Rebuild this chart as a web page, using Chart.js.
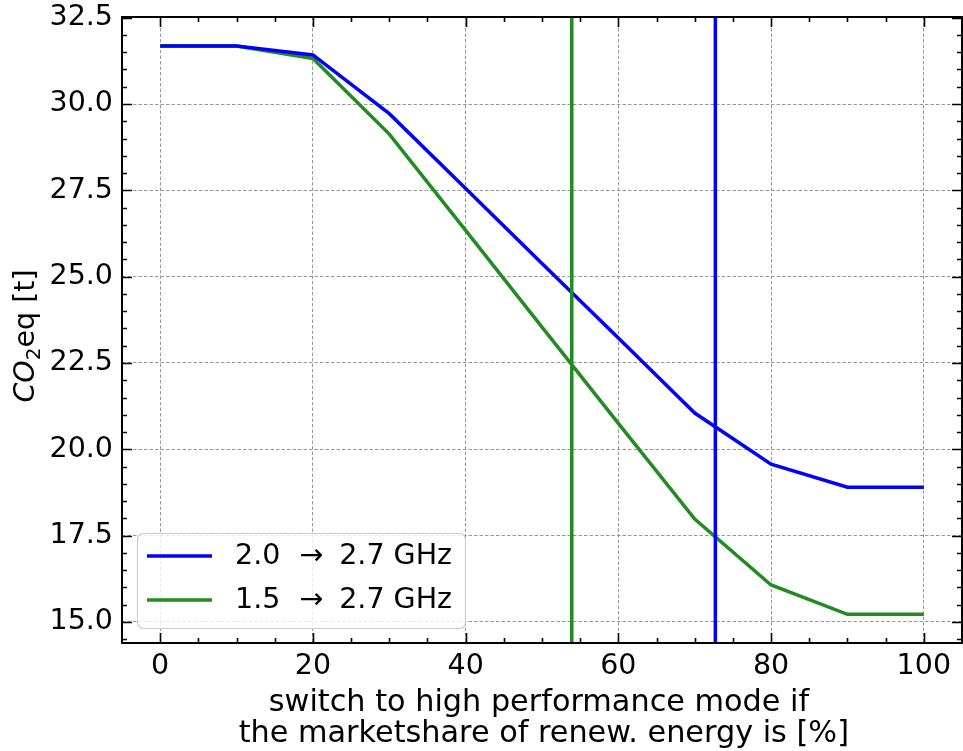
<!DOCTYPE html>
<html>
<head>
<meta charset="utf-8">
<script src="https://cdn.jsdelivr.net/npm/chart.js@4.4.0/dist/chart.umd.min.js"></script>
<style>
  html, body { margin: 0; padding: 0; background: #ffffff; }
  #wrap { width: 963px; height: 751px; position: relative; }
</style>
</head>
<body>
<div id="wrap"><canvas id="c" width="963" height="751"></canvas></div>
<script>
// ---- data ----
const shares = [0, 10, 20, 30, 40, 50, 60, 70, 80, 90, 100];
const co2_20_27 = [31.68, 31.68, 31.42, 29.72, 27.55, 25.38, 23.22, 21.05, 19.57, 18.9, 18.9];
const co2_15_27 = [31.68, 31.68, 31.32, 29.13, 26.34, 23.54, 20.75, 17.98, 16.07, 15.22, 15.22];
const seriesLabels = ['2.0 \u2192 2.7 GHz', '1.5 \u2192 2.7 GHz'];
const seriesColors = ['#0000ff', '#228b22'];
const switchPoints = [72.7, 53.9]; // vertical markers (blue, green)
const xTicks = [0, 20, 40, 60, 80, 100];
const yTicks = [15.0, 17.5, 20.0, 22.5, 25.0, 27.5, 30.0, 32.5];
const xLabelLines = ['switch to high performance mode if', ' the marketshare of renew. energy is [%]'];

const X_MIN = -5, X_MAX = 105, Y_MIN = 14.39, Y_MAX = 32.52;
const FONT = 'DejaVu Sans';
const FS = 28.5;      // tick labels
const FS_LAB = 30.3;  // x axis title
const FS_LEG = 28.5;  // legend
const LW = 3.5;

function pts(xs, ys) { return xs.map((x, i) => ({ x: x, y: ys[i] })); }
function vline(x) { return [{ x: x, y: Y_MIN }, { x: x, y: Y_MAX }]; }

const datasets = [
  { label: seriesLabels[0], data: pts(shares, co2_20_27), borderColor: seriesColors[0], borderWidth: LW, pointRadius: 0, tension: 0, order: 2 },
  { label: seriesLabels[1], data: pts(shares, co2_15_27), borderColor: seriesColors[1], borderWidth: LW, pointRadius: 0, tension: 0, order: 2 },
  { label: 'v0', data: vline(switchPoints[0]), borderColor: seriesColors[0], borderWidth: LW, pointRadius: 0, order: 1 },
  { label: 'v1', data: vline(switchPoints[1]), borderColor: seriesColors[1], borderWidth: LW, pointRadius: 0, order: 1 }
];

const decorPlugin = {
  id: 'decor',
  afterDraw(chart) {
    const ctx = chart.ctx;
    const a = chart.chartArea;
    const xs = chart.scales.x, ys = chart.scales.y;
    ctx.save();
    // frame
    ctx.strokeStyle = '#000';
    ctx.lineWidth = 2;
    ctx.strokeRect(a.left, a.top, a.right - a.left, a.bottom - a.top);
    // inward ticks
    ctx.lineWidth = 1.6;
    ctx.beginPath();
    for (let v = 0; v <= 100; v += 5) {
      const px = Math.round(xs.getPixelForValue(v)) + 0.5;
      const len = (v % 20 === 0) ? 10 : 5;
      ctx.moveTo(px, a.bottom); ctx.lineTo(px, a.bottom - len);
      ctx.moveTo(px, a.top); ctx.lineTo(px, a.top + len);
    }
    for (let k = 0; ; k++) {
      const v = 14.5 + k * 0.5;
      if (v > Y_MAX) break;
      const py = Math.round(ys.getPixelForValue(v)) + 0.5;
      const major = Math.abs((v / 2.5) - Math.round(v / 2.5)) < 1e-6;
      const len = major ? 10 : 5;
      ctx.moveTo(a.left, py); ctx.lineTo(a.left + len, py);
      ctx.moveTo(a.right, py); ctx.lineTo(a.right - len, py);
    }
    ctx.stroke();

    // legend
    const lx = 137.5, ly = 533.5, lw = 328, lh = 95, r = 6;
    ctx.beginPath();
    ctx.moveTo(lx + r, ly);
    ctx.arcTo(lx + lw, ly, lx + lw, ly + lh, r);
    ctx.arcTo(lx + lw, ly + lh, lx, ly + lh, r);
    ctx.arcTo(lx, ly + lh, lx, ly, r);
    ctx.arcTo(lx, ly, lx + lw, ly, r);
    ctx.closePath();
    ctx.fillStyle = 'rgba(255,255,255,0.8)';
    ctx.fill();
    ctx.strokeStyle = '#cccccc';
    ctx.lineWidth = 1.2;
    ctx.stroke();
    const rows = [556, 600];
    ctx.font = FS_LEG + 'px "' + FONT + '"';
    ctx.textBaseline = 'middle';
    ctx.textAlign = 'left';
    for (let i = 0; i < 2; i++) {
      ctx.strokeStyle = seriesColors[i];
      ctx.lineWidth = LW;
      ctx.beginPath();
      ctx.moveTo(147, rows[i]); ctx.lineTo(212, rows[i]);
      ctx.stroke();
      ctx.fillStyle = '#000';
      // draw label with wider spacing around the arrow (mathtext-like)
      const parts = seriesLabels[i].split(' \u2192 ');
      let tx = 235;
      ctx.fillText(parts[0], tx, rows[i] + 1);
      tx += ctx.measureText(parts[0]).width + 19;
      ctx.fillText('\u2192', tx, rows[i] + 1);
      tx += ctx.measureText('\u2192').width + 16;
      ctx.fillText(parts[1], tx, rows[i] + 1);
    }

    // x axis title
    ctx.font = FS_LAB + 'px "' + FONT + '"';
    ctx.textAlign = 'center';
    ctx.textBaseline = 'alphabetic';
    const cx = (a.left + a.right) / 2;
    ctx.fillText(xLabelLines[0], cx - 3, 711);
    ctx.fillText(xLabelLines[1], cx - 3, 742);

    // y axis title: CO_2 eq [t]
    ctx.translate(34, (a.top + a.bottom) / 2 + 6);
    ctx.rotate(-Math.PI / 2);
    const f1 = 'italic ' + FS + 'px "' + FONT + '"';
    const f2 = Math.round(FS * 0.7) + 'px "' + FONT + '"';
    const f3 = FS + 'px "' + FONT + '"';
    ctx.font = f1; const w1 = ctx.measureText('CO').width;
    ctx.font = f2; const w2 = ctx.measureText('2').width;
    ctx.font = f3; const w3 = ctx.measureText('eq [t]').width;
    let sx = -(w1 + w2 + w3) / 2;
    ctx.textAlign = 'left';
    ctx.font = f1; ctx.fillText('CO', sx, 0); sx += w1;
    ctx.font = f2; ctx.fillText('2', sx, 6); sx += w2;
    ctx.font = f3; ctx.fillText('eq [t]', sx, 0);
    ctx.restore();
  }
};

new Chart(document.getElementById('c'), {
  type: 'line',
  data: { datasets: datasets },
  options: {
    responsive: false,
    animation: false,
    events: [],
    layout: { padding: { top: 17, right: 1, left: 0, bottom: 0 } },
    plugins: { legend: { display: false }, tooltip: { enabled: false } },
    scales: {
      x: {
        type: 'linear', min: X_MIN, max: X_MAX,
        afterBuildTicks: (s) => { s.ticks = xTicks.map(v => ({ value: v })); },
        afterFit: (s) => { s.height = 108; s.paddingLeft = 0; s.paddingRight = 0; },
        ticks: { color: '#000', font: { family: FONT, size: FS }, padding: 6, maxRotation: 0, autoSkip: false, callback: (v) => String(v) },
        grid: { color: '#999999', lineWidth: 1, drawTicks: false },
        border: { display: false, dash: [3.5, 2] }
      },
      y: {
        type: 'linear', min: Y_MIN, max: Y_MAX,
        afterBuildTicks: (s) => { s.ticks = yTicks.map(v => ({ value: v })); },
        afterFit: (s) => { s.width = 122; s.paddingTop = 0; s.paddingBottom = 0; },
        ticks: { color: '#000', font: { family: FONT, size: FS }, padding: 9, autoSkip: false, callback: (v) => Number(v).toFixed(1) },
        grid: { color: '#999999', lineWidth: 1, drawTicks: false },
        border: { display: false, dash: [3.5, 2] }
      }
    }
  },
  plugins: [decorPlugin]
});
</script>
</body>
</html>
